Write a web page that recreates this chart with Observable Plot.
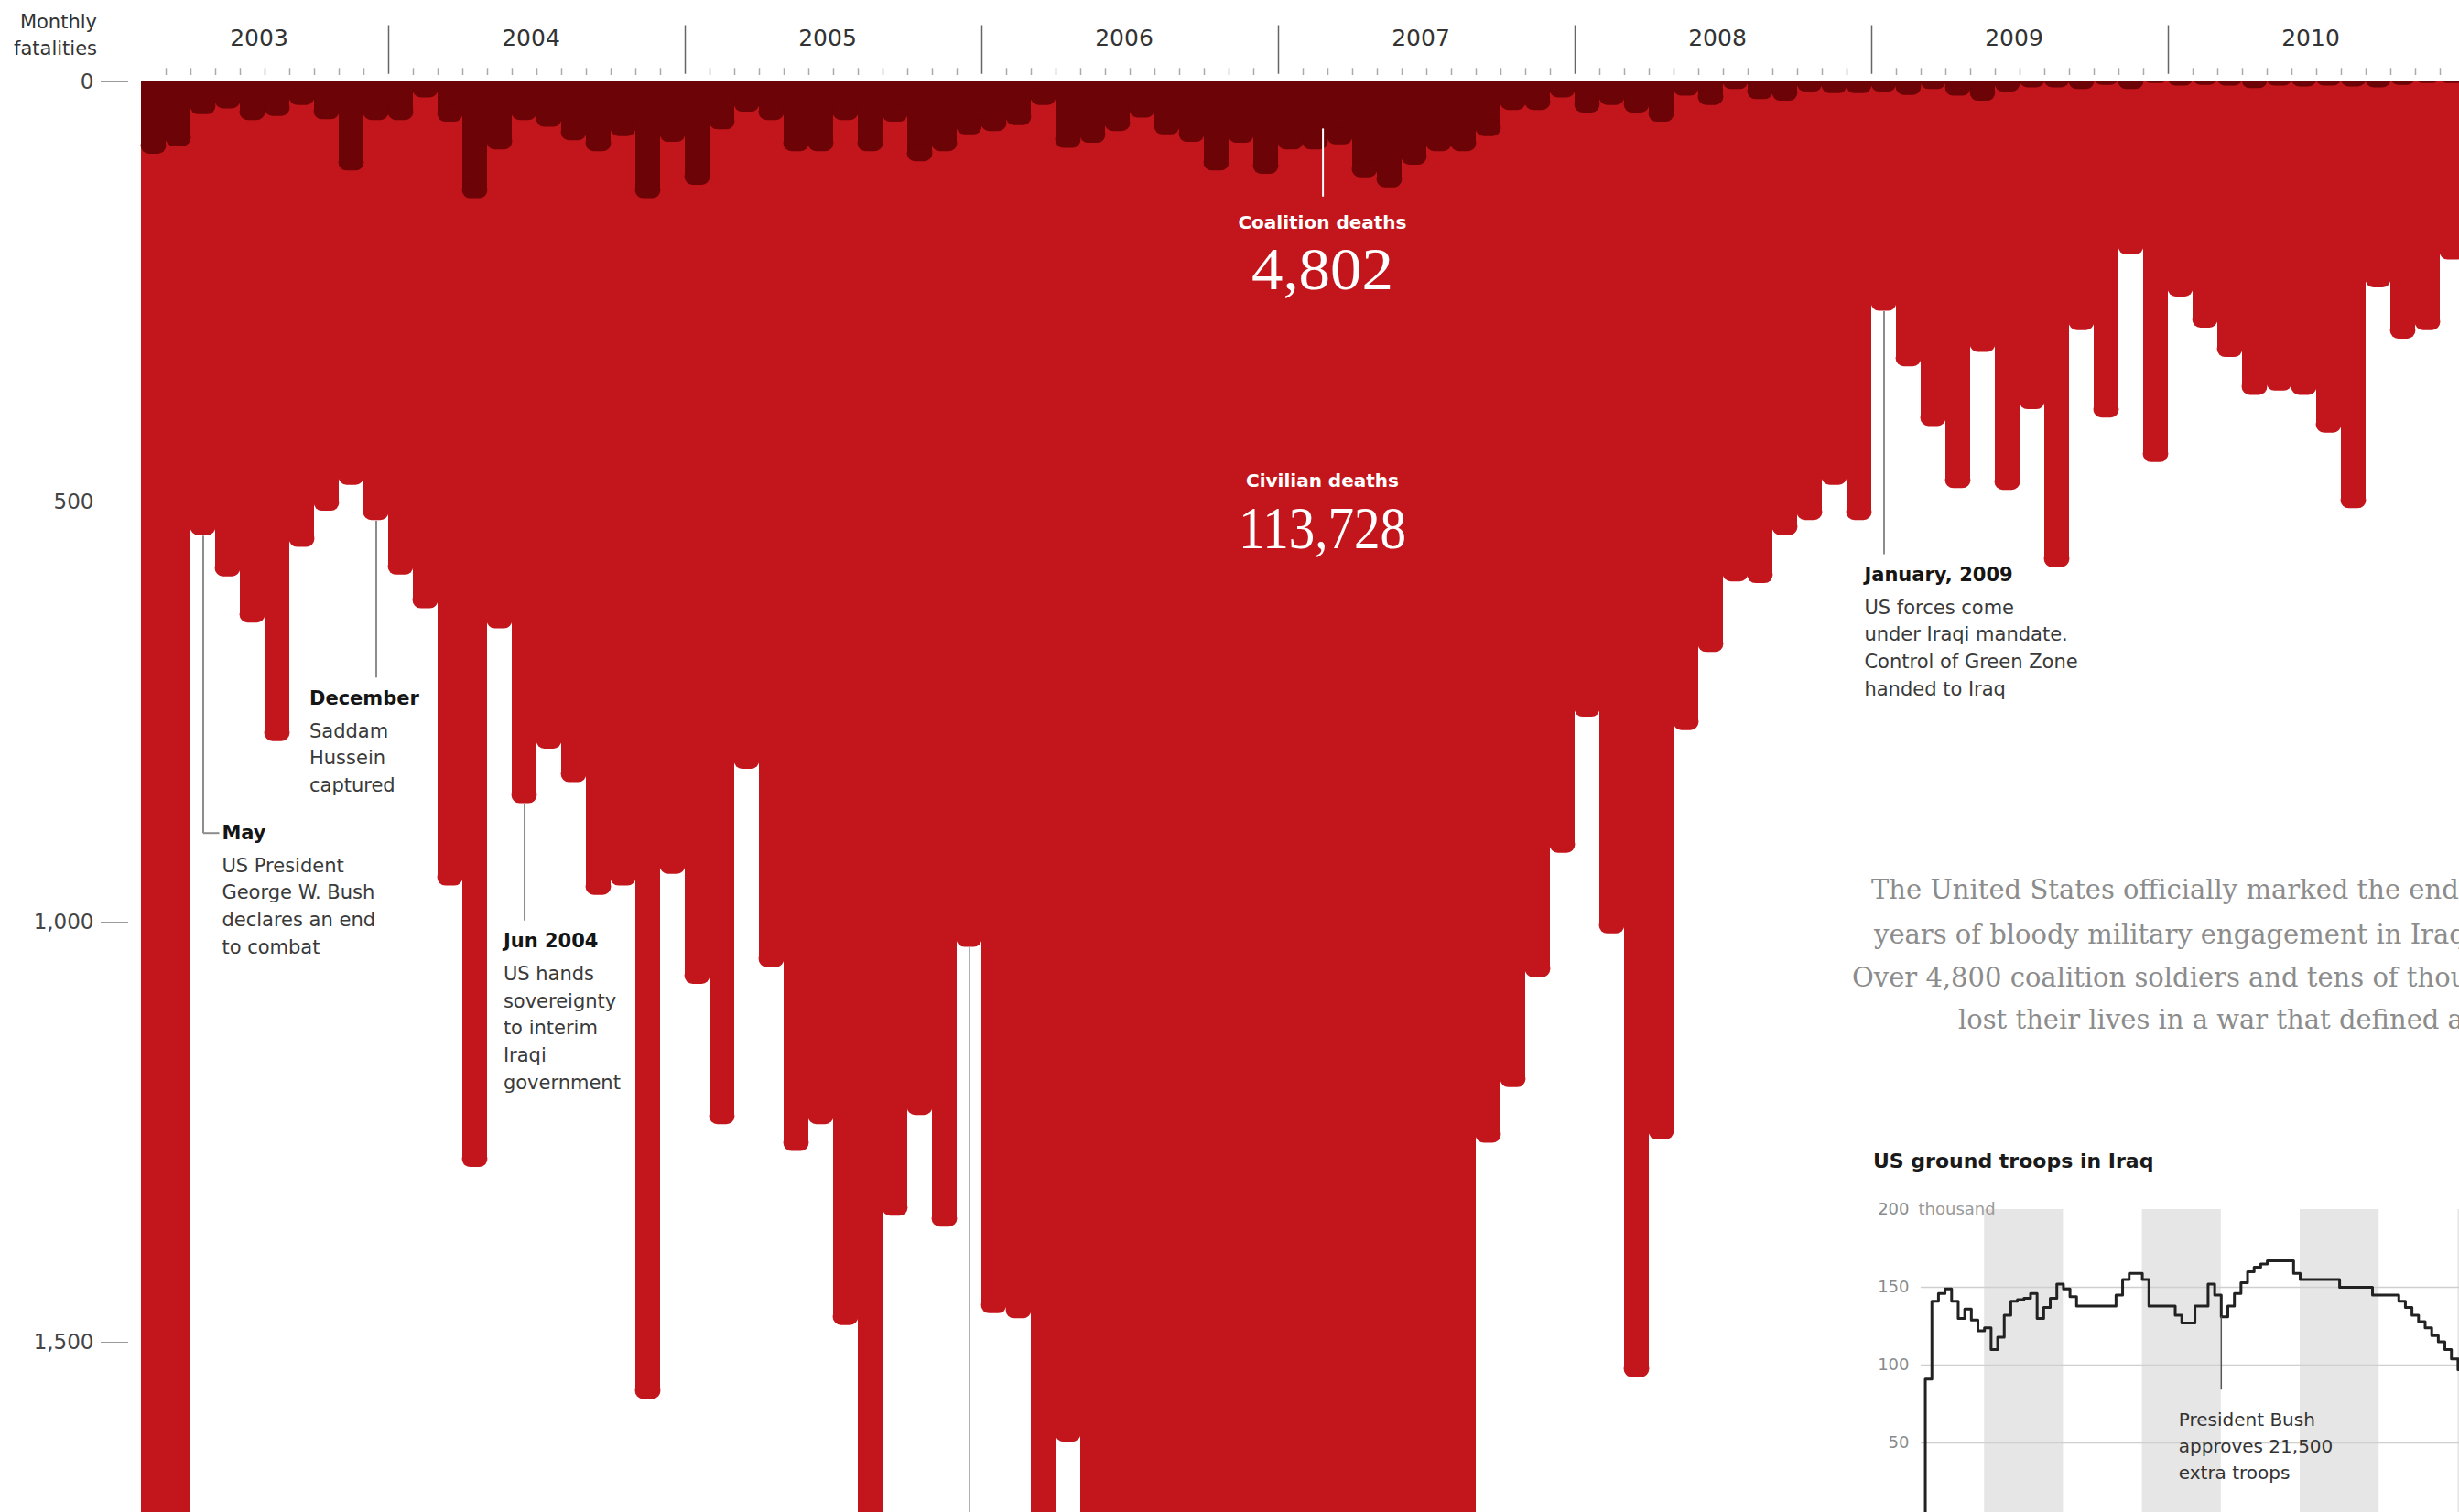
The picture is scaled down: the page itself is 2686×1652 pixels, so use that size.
<!DOCTYPE html>
<html>
<head>
<meta charset="utf-8">
<script src="https://cdn.jsdelivr.net/npm/d3@7"></script>
<script src="https://cdn.jsdelivr.net/npm/@observablehq/plot@0.6"></script>
<style>
  html, body { margin: 0; padding: 0; background: #fff; }
  body { width: 2686px; height: 1652px; overflow: hidden; position: relative; font-family: "DejaVu Sans", sans-serif; }
  #main { position: absolute; left: 0; top: 0; width: 2686px; }
  #inset { position: absolute; left: 1990px; top: 1240px; width: 700px; }
  .ylabel { position: absolute; left: 0; top: 10px; width: 106px; text-align: right; font-size: 21px; line-height: 29px; color: #333; }
  .para { position: absolute; white-space: nowrap; font-family: "DejaVu Serif", serif; font-size: 29px; line-height: 48px; color: #8c8c8c; }
  .insetTitle { position: absolute; left: 2046px; top: 1254px; white-space: nowrap; font-weight: bold; font-size: 22px; line-height: 30px; color: #1a1a1a; }
</style>
</head>
<body>
<div id="main"></div>
<div id="inset"></div>
<div class="ylabel">Monthly<br>fatalities</div>
<div class="para" style="left:2044px; top:948px;">The United States officially marked the end of nearly nine</div>
<div class="para" style="left:2047px; top:997px;">years of bloody military engagement in Iraq on Thursday.</div>
<div class="para" style="left:2023px; top:1044px;">Over 4,800 coalition soldiers and tens of thousands of Iraqis</div>
<div class="para" style="left:2139px; top:1090px;">lost their lives in a war that defined a decade</div>
<div class="insetTitle">US ground troops in Iraq</div>
<script>
// ---------------- DATA ----------------
// Monthly series start in March 2003 (month index 2 counted from Jan 2003) and run to Dec 2010
const firstMonthIndex = 2;
const years = [2003, 2004, 2005, 2006, 2007, 2008, 2009, 2010];

// Civilian deaths per month (values beyond ~1,700 run off the bottom of the chart)
const civilian = [
  3977, 3437, 540, 589, 644, 785, 554, 511, 480, 522,                 // 2003 Mar-Dec
  587, 627, 957, 1292, 651, 859, 794, 834, 968, 957, 1568, 943,       // 2004
  1074, 1241, 818, 1054, 1273, 1241, 1480, 2352, 1350, 1230, 1363, 1030, // 2005
  1466, 1472, 1957, 1619, 2279, 2594, 3298, 2865, 2567, 3041, 3095, 2900, // 2006
  2982, 2700, 2728, 2573, 2854, 2219, 2702, 2483, 1263, 1197, 1066, 918,  // 2007
  756, 1014, 1542, 1259, 772, 679, 595, 597, 540, 522, 480, 522,      // 2008
  273, 339, 410, 484, 322, 486, 390, 578, 296, 400, 206, 453,         // 2009
  256, 293, 328, 373, 368, 373, 418, 508, 245, 306, 296, 212          // 2010
];

// Coalition deaths per month
const coalition = [
  86, 77, 39, 32, 46, 41, 28, 45, 106, 46,                            // 2003 Mar-Dec
  46, 19, 48, 139, 81, 46, 54, 70, 83, 65, 139, 72,                   // 2004
  123, 57, 36, 46, 83, 83, 46, 83, 48, 95, 83, 63,                    // 2005
  59, 52, 28, 79, 73, 59, 43, 63, 72, 106, 73, 110,                   // 2006
  81, 81, 75, 114, 126, 99, 83, 83, 65, 34, 34, 19,                   // 2007
  37, 28, 37, 48, 17, 28, 9, 21, 23, 12, 14, 14,                      // 2008
  12, 16, 9, 17, 23, 12, 7, 7, 9, 4, 9, 2,                            // 2009
  5, 4, 5, 8, 5, 6, 5, 6, 7, 4, 2, 2                                  // 2010
];

const totalLabels = ["Coalition deaths", "Civilian deaths"];
const totalValues = [4802, 113728];

// Events (month index counted from Jan 2003)
const eventMonths = [4, 11, 17, 72];
const eventHeaders = ["May", "December", "Jun 2004", "January, 2009"];
const eventBodies = [
  "US President\nGeorge W. Bush\ndeclares an end\nto combat",
  "Saddam\nHussein\ncaptured",
  "US hands\nsovereignty\nto interim\nIraqi\ngovernment",
  "US forces come\nunder Iraqi mandate.\nControl of Green Zone\nhanded to Iraq"
];

// US ground troops in Iraq (thousand), monthly from March 2003
const troops = [
  0, 91, 141, 146, 149, 141, 130, 136, 129, 122,
  124, 110, 118, 132, 141, 142, 143, 146, 130, 137, 143, 152,
  149, 144, 138, 138, 138, 138, 138, 138, 145, 155, 159, 159,
  155, 138, 138, 138, 138, 132, 127, 127, 138, 138, 152, 145,
  131, 138, 146, 153, 160, 163, 165, 167, 167, 167, 167, 159,
  155, 155, 155, 155, 155, 155, 150, 150, 150, 150, 150, 145,
  145, 145, 145, 141, 137, 132, 128, 124, 119, 115, 110, 104,
  97, 95, 92
];
const troopTicks = [50, 100, 150, 200];
const shadedYears = [2004, 2006, 2008, 2010];
const troopEventMonth = 48; // Jan 2007
const troopEventText = "President Bush\napproves 21,500\nextra troops";

// ---------------- LAYOUT / STYLE ----------------
const RED = "#c3161c", DARK = "#6c0306";
const R = 10;       // drip rounding zone in data units
const DRIP_RX = 9;  // px
const YMAX = 1702.6;

// annotation layout (data coordinates: fractional year, deaths)
const eventLayout = [
  {textX: 2003.438, textY: 894, lineTo: 894, hookTo: 2003.429},
  {textX: 2003.733, textY: 734, lineTo: 709},
  {textX: 2004.387, textY: 1023, lineTo: 998},
  {textX: 2008.975, textY: 587, lineTo: 562}
];
const totalsLayout = [
  {x: 2007.148, headY: 168, numY: 224},
  {x: 2007.148, headY: 475, numY: 532}
];
const coalitionPointer = {x: 2007.15, y1: 56, y2: 137};
const pointerMonth = 35; // Dec 2005 pointer running off the bottom

// ---------------- DERIVED ROWS ----------------
const tOf = m => 2003 + m / 12;
const rows = civilian.map((c, i) => ({
  t0: tOf(firstMonthIndex + i), t1: tOf(firstMonthIndex + i + 1), civ: c, coal: coalition[i]
}));
const stepRows = rows.map(r => ({t: r.t0, civ: r.civ, coal: r.coal}));
stepRows.push({t: rows[rows.length - 1].t1, civ: rows[rows.length - 1].civ, coal: rows[rows.length - 1].coal});

const monthTicks = [];
for (let m = firstMonthIndex + 1; m < 96; m++) if (m % 12 !== 0) monthTicks.push(tOf(m));

const events = eventMonths.map((m, i) => ({
  xc: tOf(m + 0.5),
  from: civilian[m - firstMonthIndex],
  header: eventHeaders[i],
  body: eventBodies[i],
  ...eventLayout[i]
}));

const totals = totalLabels.map((l, i) => ({label: l, value: d3.format(",")(totalValues[i]), ...totalsLayout[i]}));

const fmt = d3.format(",");

const mainPlot = Plot.plot({
  width: 2686, height: 1652,
  marginLeft: 140, marginRight: 0, marginTop: 89, marginBottom: 0,
  x: {type: "linear", domain: [2003, 2011], range: [100, 2692], axis: null},
  y: {type: "linear", domain: [0, YMAX], range: [89, 1652], axis: null},
  style: {fontFamily: "DejaVu Sans", fontSize: "21px", background: "transparent", maxWidth: "none", overflow: "visible"},
  marks: [
    // civilian deaths
    Plot.areaY(stepRows, {x: "t", y1: () => 0, y2: d => Math.max(0, d.civ - R), curve: "step-after", fill: RED, clip: true}),
    Plot.rect(rows, {x1: "t0", x2: "t1", y1: d => d.civ - 2 * R, y2: "civ", rx: DRIP_RX, fill: RED, insetLeft: -0.4, insetRight: -0.4, clip: true}),
    // coalition deaths
    Plot.areaY(stepRows, {x: "t", y1: () => 0, y2: d => Math.max(0, d.coal - R), curve: "step-after", fill: DARK, clip: true}),
    Plot.rect(rows, {x1: "t0", x2: "t1", y1: d => d.coal - 2 * R, y2: "coal", rx: DRIP_RX, fill: DARK, insetLeft: -0.4, insetRight: -0.4, clip: true}),
    // pointer from Dec 2005 off the chart
    Plot.ruleX([pointerMonth], {x: m => tOf(m + 0.5), y1: m => civilian[m - firstMonthIndex], y2: () => YMAX, stroke: "#aab0b8", strokeWidth: 2, clip: true}),
    // coalition pointer (white)
    Plot.ruleX([coalitionPointer], {x: "x", y1: "y1", y2: "y2", stroke: "#fff", strokeWidth: 2}),
    // totals
    Plot.text(totals, {x: "x", y: "headY", text: "label", fill: "#fff", fontWeight: "bold", fontSize: 20, textAnchor: "middle"}),
    Plot.text(totals, {x: "x", y: "numY", text: "value", fill: "#fff", fontFamily: "Liberation Serif, DejaVu Serif, serif", fontSize: 66, textAnchor: "middle"}),
    // event pointers
    Plot.link(events, {x1: "xc", x2: "xc", y1: "from", y2: "lineTo", stroke: "#8c8c8c", strokeWidth: 2}),
    Plot.link(events.filter(e => e.hookTo), {x1: "xc", x2: "hookTo", y1: "lineTo", y2: "lineTo", stroke: "#8c8c8c", strokeWidth: 2}),
    Plot.text(events, {x: "textX", y: "textY", text: "header", textAnchor: "start", fontWeight: "bold", fontSize: 21, fill: "#151515"}),
    Plot.text(events, {x: "textX", y: "textY", text: "body", textAnchor: "start", lineAnchor: "top", lineHeight: 1.41, dy: 21.5, fontSize: 21, fill: "#3a3a3a"}),
    // y axis
    Plot.axisY({ticks: [0, 500, 1000, 1500], tickFormat: fmt, anchor: "left", tickSize: 30, tickPadding: 8, fontSize: 23, color: "#444", stroke: "#9a9a9a", label: null}),
    // top time axis
    Plot.ruleX(years.slice(1), {y1: () => -67, y2: () => -9, stroke: "#666", strokeWidth: 1.5}),
    Plot.ruleX(monthTicks, {y1: () => -16, y2: () => -7.6, stroke: "#aaa", strokeWidth: 1.5}),
    Plot.text(years, {x: y => (Math.max(y, tOf(firstMonthIndex)) + y + 1) / 2 - 0.02, y: () => -52, text: y => String(y), fontSize: 25, fill: "#333"})
  ]
});
document.getElementById("main").appendChild(mainPlot);

// compress the big serif totals to their drawn widths
d3.select(mainPlot).selectAll("text").each(function () {
  const t = this.textContent;
  if (t === "113,728") { this.setAttribute("textLength", 183); this.setAttribute("lengthAdjust", "spacingAndGlyphs"); }
  if (t === "4,802") { this.setAttribute("textLength", 155); this.setAttribute("lengthAdjust", "spacingAndGlyphs"); }
});

// ---------------- INSET ----------------
const troopRows = troops.map((v, i) => ({t: tOf(firstMonthIndex + i), v}));
const insetPlot = Plot.plot({
  width: 700, height: 420,
  marginLeft: 108, marginRight: 0, marginTop: 0, marginBottom: 0,
  x: {type: "linear", domain: [2003, 2011], range: [91, 780.6], axis: null},
  y: {type: "linear", domain: [0, 200], range: [421, 81], axis: null},
  style: {fontFamily: "DejaVu Sans", fontSize: "18px", background: "transparent", maxWidth: "none"},
  marks: [
    Plot.rect(shadedYears, {x1: d => d, x2: d => d + 1, y1: () => 0, y2: () => 200, fill: "#e6e6e6"}),
    Plot.ruleY([50, 100, 150], {stroke: "#cfcfcf", strokeWidth: 1.5}),
    Plot.axisY({ticks: troopTicks, tickSize: 0, tickPadding: 13, fontSize: 18, color: "#8a8a8a", label: null}),
    Plot.text([200], {frameAnchor: "left", y: d => d, text: () => "thousand", dx: -3, textAnchor: "start", fontSize: 18, fill: "#9a9a9a"}),
    Plot.line(troopRows, {x: "t", y: "v", curve: "step-after", stroke: "#222", strokeWidth: 3}),
    Plot.ruleX([troopEventMonth], {x: m => tOf(m), y1: () => 84, y2: m => troops[m - firstMonthIndex], stroke: "#555", strokeWidth: 1.5}),
    Plot.text([troopEventText], {x: () => 2006.46, y: () => 72.9, text: d => d, textAnchor: "start", lineAnchor: "top", lineHeight: 1.45, fontSize: 20, fill: "#333"})
  ]
});
document.getElementById("inset").appendChild(insetPlot);
</script>
</body>
</html>
